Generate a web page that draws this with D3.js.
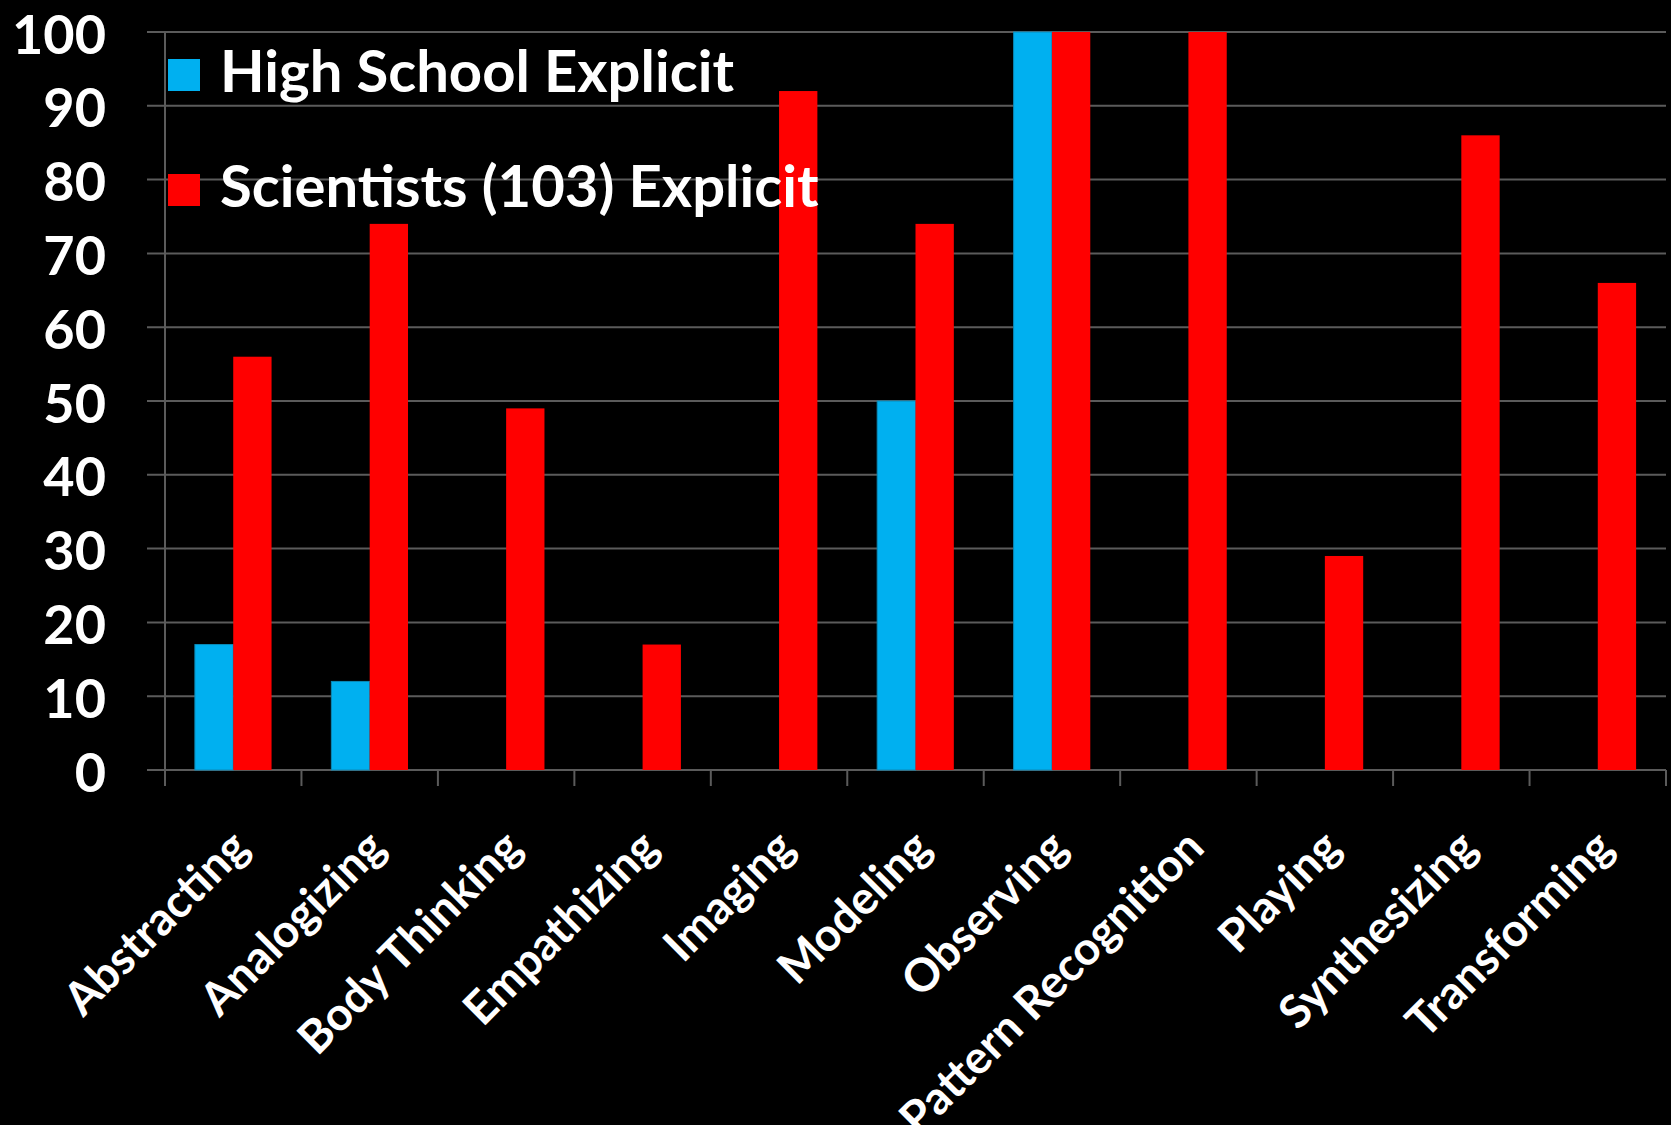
<!DOCTYPE html>
<html>
<head>
<meta charset="utf-8">
<script src="https://cdn.jsdelivr.net/npm/d3@7"></script>
<style>
  html, body { margin: 0; padding: 0; background: #000; }
  svg { display: block; }
  text { font-family: Lato, "Open Sans", sans-serif; font-weight: 700; fill: #fff; }
</style>
</head>
<body>
<svg id="chart" width="1671" height="1125"></svg>
<script>
// Thinking tools: share of each group that named the tool explicitly (%)
const categories = ["Abstracting", "Analogizing", "Body Thinking", "Empathizing", "Imaging",
  "Modeling", "Observing", "Pattern Recognition", "Playing", "Synthesizing", "Transforming"];
const highSchool = [17, 12, 0, 0, 0, 50, 100, 0, 0, 0, 0];
const scientists = [56, 74, 49, 17, 92, 74, 100, 100, 29, 86, 66];
const seriesNames = ["High School Explicit", "Scientists (103) Explicit"];
const yTicks = [0, 10, 20, 30, 40, 50, 60, 70, 80, 90, 100];

const colors = ["#00B0F0", "#FF0000"];
const W = 1671, H = 1125;
const m = { left: 165, right: 5, top: 32, bottom: 355 };

const svg = d3.select("#chart");
const x = d3.scaleBand().domain(categories).range([m.left, W - m.right]);
const y = d3.scaleLinear().domain([0, 100]).range([H - m.bottom, m.top]);
const inner = d3.scaleBand().domain([0, 1]).range([0, x.bandwidth()]).paddingOuter(0.78).paddingInner(0);

const gridColor = "#5b5b5b";

// horizontal gridlines with short ticks left of the axis
svg.append("g").selectAll("line").data(yTicks).join("line")
  .attr("x1", m.left - 18).attr("x2", W - m.right)
  .attr("y1", d => y(d)).attr("y2", d => y(d))
  .attr("stroke", gridColor).attr("stroke-width", 2);

// value axis line
svg.append("line")
  .attr("x1", m.left).attr("x2", m.left)
  .attr("y1", y(100)).attr("y2", y(0) + 16)
  .attr("stroke", gridColor).attr("stroke-width", 2);

// category tick marks at band edges
const edges = categories.map(c => x(c)).concat([x(categories[categories.length - 1]) + x.bandwidth()]);
svg.append("g").selectAll("line").data(edges).join("line")
  .attr("x1", d => d).attr("x2", d => d)
  .attr("y1", y(0)).attr("y2", y(0) + 16)
  .attr("stroke", gridColor).attr("stroke-width", 2);

// y tick labels
svg.append("g").selectAll("text").data(yTicks).join("text")
  .attr("x", 106).attr("y", d => y(d) + 1)
  .attr("text-anchor", "end").attr("dominant-baseline", "central")
  .style("font-size", "54px")
  .text(d => d);

// bars
const rows = categories.map((c, i) => ({ c, v: [highSchool[i], scientists[i]] }));
const groups = svg.append("g").selectAll("g").data(rows).join("g")
  .attr("transform", d => `translate(${x(d.c)},0)`);
groups.selectAll("rect").data(d => d.v.map((v, s) => ({ v, s })).filter(e => e.v > 0)).join("rect")
  .attr("x", e => inner(e.s))
  .attr("width", inner.bandwidth())
  .attr("y", e => y(e.v))
  .attr("height", e => y(0) - y(e.v))
  .attr("fill", e => colors[e.s])
  .attr("stroke", e => e.s === 0 ? "#0a8ab8" : "none")
  .attr("stroke-width", 1);

// category labels, rotated
svg.append("g").selectAll("text").data(categories).join("text")
  .attr("transform", c => `translate(${x(c) + x.bandwidth() / 2 + 18},${y(0) + 80}) rotate(-45)`)
  .attr("text-anchor", "end")
  .style("font-size", "46px")
  .text(c => c);

// legend
const legend = svg.append("g").selectAll("g").data(seriesNames).join("g")
  .attr("transform", (d, i) => `translate(168,${59 + i * 115})`);
legend.append("rect").attr("width", 32).attr("height", 32).attr("fill", (d, i) => colors[i]);
legend.append("text").attr("x", 52).attr("y", 33)
  .style("font-size", "58px")
  .text(d => d);
</script>
</body>
</html>
